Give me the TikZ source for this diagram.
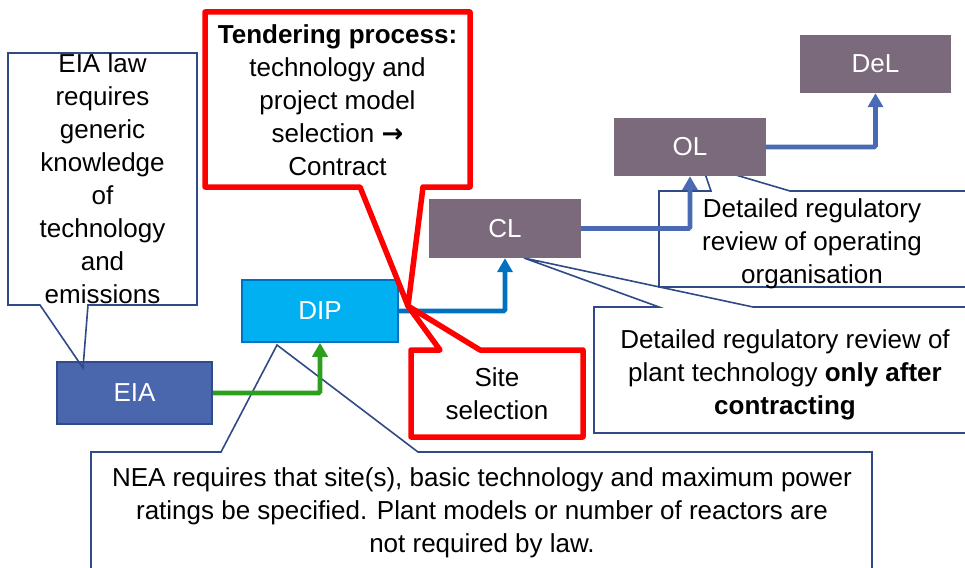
\documentclass[tikz,border=0pt]{standalone}
\usepackage{fontspec}
\setmainfont{Liberation Sans}
\newfontfamily\djv{DejaVu Sans}
\usetikzlibrary{arrows.meta}
\definecolor{eiafill}{HTML}{4A66AC}
\definecolor{eiaedge}{HTML}{2F4B8C}
\definecolor{dipfill}{HTML}{00B0F0}
\definecolor{dipedge}{HTML}{0070C0}
\definecolor{licfill}{HTML}{7A6A7B}
\definecolor{callblue}{HTML}{2F4A86}
\definecolor{arrblue}{HTML}{4A6AB4}
\definecolor{arrgreen}{HTML}{2CA01C}
\definecolor{redc}{HTML}{FF0000}
\tikzset{
  txt/.style={font=\fontsize{26}{33}\selectfont, align=center, inner sep=0pt, anchor=north},
  boxnode/.style={font=\fontsize{26}{33}\selectfont, text=white, inner sep=0pt},
  callthin/.style={draw=callblue, line width=1.6pt, line join=miter},
  callred/.style={draw=redc, fill=white, line width=5.5pt, line join=round},
  arr/.style={line width=4.8pt, -{Triangle[width=15pt,length=14pt]}, rounded corners=1.5pt},
}
\newcommand\fl{\rule{0pt}{20pt}}
\begin{document}
\begin{tikzpicture}[x=1pt,y=-1pt]
\useasboundingbox (0,0) rectangle (965,567);

% thin callouts (behind boxes)
\draw[callthin] (91,452) -- (221,452) -- (277,345) -- (418,452) -- (872,452) -- (872,572) -- (91,572) -- cycle;
\draw[callthin] (594,307) -- (659,307) -- (524,258) -- (753,307) -- (980,307) -- (980,433) -- (594,433) -- cycle;
\draw[callthin] (659,191) -- (711,191) -- (702,165) -- (790,191) -- (975,191) -- (975,287) -- (659,287) -- cycle;

% boxes
\node[boxnode, fill=eiafill, draw=eiaedge, line width=1.5pt, minimum width=155pt, minimum height=62pt] (EIA) at (134.5,393) {EIA};
\node[boxnode, fill=dipfill, draw=dipedge, line width=1.5pt, minimum width=156pt, minimum height=62pt] (DIP) at (320,311) {DIP};
\node[boxnode, fill=licfill, minimum width=152pt, minimum height=59pt] (CL) at (505,228.5) {CL};
\node[boxnode, fill=licfill, minimum width=152pt, minimum height=58pt] (OL) at (690,147) {OL};
\node[boxnode, fill=licfill, minimum width=151pt, minimum height=58pt] (DeL) at (875.5,64) {DeL};

% EIA law callout
\draw[callthin] (8,53) -- (197,53) -- (197,305) -- (88,305) -- (83,368) -- (40,305) -- (8,305) -- cycle;

% arrows
\draw[arr, arrgreen] (EIA.east) -| (DIP.south);
\draw[arr, dipedge] (DIP.east) -| (CL.south);
\draw[arr, arrblue] (CL.east) -| (OL.south);
\draw[arr, arrblue] (OL.east) -| (DeL.south);

% red callouts
\draw[callred] (205,12) -- (470,12) -- (470,187) -- (423,187) -- (408,306) -- (360,187) -- (205,187) -- cycle;
\draw[callred] (411,350) -- (440,350) -- (408,306) -- (480,350) -- (583,350) -- (583,437) -- (411,437) -- cycle;

% texts
\node[txt] (eialaw) at (102.5,52) {\fl EIA law\\requires\\generic\\knowledge\\of\\technology\\and\\emissions};
\node[txt] (tender) at (337.5,23) {\fl\textbf{Tendering process:}\\technology and\\project model\\selection {\djv\bfseries →}\\Contract};
\node[txt] (site) at (497,366) {\fl Site\\selection};
\node[txt] (nea) at (482,466) {\fl NEA requires that site(s), basic technology and maximum power\\ratings be specified. Plant models or number of reactors are\\not required by law.};
\node[txt] (plant) at (785,328) {\fl Detailed regulatory review of\\plant technology \textbf{only after}\\\textbf{contracting}};
\node[txt] (oper) at (812,197) {\fl Detailed regulatory\\review of operating\\organisation};
\end{tikzpicture}
\end{document}
